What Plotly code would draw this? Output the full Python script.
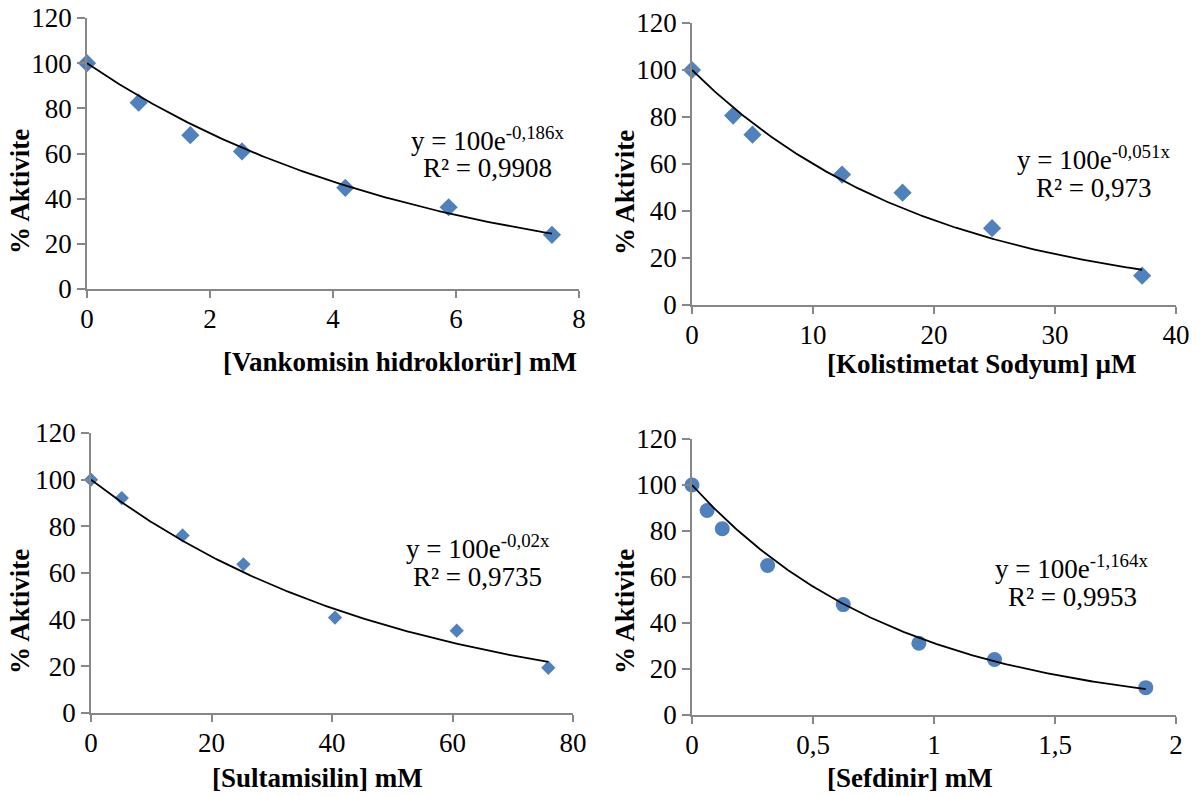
import numpy as np
import plotly.graph_objects as go

W, H = 1203, 796

# ---- data ----
vank_x = [0, 0.84, 1.68, 2.52, 4.20, 5.88, 7.56]
vank_y = [100, 82.5, 68.1, 60.9, 44.8, 36.2, 24.0]
vank_k = 0.186

kol_x = [0, 3.4, 5.0, 12.4, 17.4, 24.8, 37.2]
kol_y = [100, 80.6, 72.5, 55.5, 47.8, 32.7, 12.5]
kol_k = 0.051

sul_x = [0, 5.1, 15.2, 25.3, 40.5, 60.7, 75.9]
sul_y = [100, 92.1, 76.1, 63.7, 40.9, 35.3, 19.4]
sul_k = 0.02

sef_x = [0, 0.0625, 0.125, 0.3125, 0.625, 0.9375, 1.25, 1.875]
sef_y = [100, 88.9, 81.0, 65.0, 48.0, 31.2, 24.1, 11.9]
sef_k = 1.164

x_titles = ["[Vankomisin hidroklorür] mM", "[Kolistimetat Sodyum] µM",
            "[Sultamisilin] mM", "[Sefdinir] mM"]
eq_texts = ["y = 100e<sup>-0,186x</sup>", "y = 100e<sup>-0,051x</sup>",
            "y = 100e<sup>-0,02x</sup>", "y = 100e<sup>-1,164x</sup>"]
r2_texts = ["R² = 0,9908", "R² = 0,973", "R² = 0,9735", "R² = 0,9953"]
x_ranges = [(0, 8, 2), (0, 40, 10), (0, 80, 20), (0, 2, 0.5)]
x_ticktext = [["0", "2", "4", "6", "8"], ["0", "10", "20", "30", "40"],
              ["0", "20", "40", "60", "80"], ["0", "0,5", "1", "1,5", "2"]]
y_ticks = [0, 20, 40, 60, 80, 100, 120]

# ---- layout geometry (pixels) ----
panels = [
    dict(x0=87, x1=579, y0=18, y1=289),
    dict(x0=692, x1=1176, y0=23, y1=305),
    dict(x0=91, x1=573, y0=433, y1=713),
    dict(x0=692, x1=1176, y0=439, y1=715),
]
eq_pos = [(488, 139, 168), (1094, 158, 188), (478, 547, 577), (1072, 567, 597)]
xt_pos = [(400, 362), (982, 364), (317, 778), (910, 778)]
yt_pos = [(20, 192), (625, 193), (20, 612), (625, 612)]

series = [(vank_x, vank_y, vank_k, "diamond", 14),
          (kol_x, kol_y, kol_k, "diamond", 14),
          (sul_x, sul_y, sul_k, "diamond", 11),
          (sef_x, sef_y, sef_k, "circle", 15)]

BLUE = "#4F81BD"
AX = "#878787"
FONT = "Liberation Serif"
FS = 27

fig = go.Figure()
annotations = []
for i, (xs, ys, k, sym, sz) in enumerate(series):
    n = "" if i == 0 else str(i + 1)
    xa, ya = "x" + n, "y" + n
    xfit = np.linspace(0, max(xs), 200)
    yfit = 100 * np.exp(-k * xfit)
    fig.add_trace(go.Scatter(x=xs, y=ys, mode="markers", xaxis=xa, yaxis=ya,
                             marker=dict(symbol=sym, size=sz, color=BLUE,
                                         line=dict(width=0)),
                             showlegend=False, cliponaxis=False))
    fig.add_trace(go.Scatter(x=xfit, y=yfit, mode="lines", xaxis=xa, yaxis=ya,
                             line=dict(color="black", width=1.8),
                             showlegend=False, cliponaxis=False))
    p = panels[i]
    lo, hi, dt = x_ranges[i]
    tv = list(np.arange(lo, hi + dt / 2, dt))
    fig.layout["xaxis" + n] = dict(
        domain=[p["x0"] / W, p["x1"] / W], range=[lo, hi], anchor=ya,
        tickvals=tv, ticktext=x_ticktext[i], showgrid=False, zeroline=False,
        showline=True, linecolor=AX, linewidth=1.5, ticks="outside",
        ticklen=7, tickcolor=AX, tickwidth=1.5, automargin=False,
        ticklabelstandoff=-2,
        tickfont=dict(family=FONT, size=FS, color="black"))
    fig.layout["yaxis" + n] = dict(
        domain=[1 - p["y1"] / H, 1 - p["y0"] / H], range=[0, 120], anchor=xa,
        tickvals=y_ticks, showgrid=False, zeroline=False,
        showline=True, linecolor=AX, linewidth=1.5, ticks="outside",
        ticklen=8, tickcolor=AX, tickwidth=1.5, automargin=False,
        tickfont=dict(family=FONT, size=FS, color="black"))
    ex, ey1, ey2 = eq_pos[i]
    annotations.append(dict(text=eq_texts[i], x=ex / W, y=1 - ey1 / H,
                            xref="paper", yref="paper", showarrow=False,
                            xanchor="center", yanchor="middle",
                            font=dict(family=FONT, size=FS, color="black")))
    annotations.append(dict(text=r2_texts[i], x=ex / W, y=1 - ey2 / H,
                            xref="paper", yref="paper", showarrow=False,
                            xanchor="center", yanchor="middle",
                            font=dict(family=FONT, size=FS, color="black")))
    tx, ty = xt_pos[i]
    annotations.append(dict(text="<b>" + x_titles[i] + "</b>", x=tx / W, y=1 - ty / H,
                            xref="paper", yref="paper", showarrow=False,
                            xanchor="center", yanchor="middle",
                            font=dict(family=FONT, size=FS, color="black")))
    yx, yy = yt_pos[i]
    annotations.append(dict(text="<b>% Aktivite</b>", x=yx / W, y=1 - yy / H,
                            xref="paper", yref="paper", showarrow=False,
                            textangle=-90, xanchor="center", yanchor="middle",
                            font=dict(family=FONT, size=FS, color="black")))

fig.update_layout(width=W, height=H, margin=dict(l=0, r=0, t=0, b=0, autoexpand=False),
                  paper_bgcolor="white", plot_bgcolor="white",
                  annotations=annotations, showlegend=False)

fig.write_html("out.html", config={"displayModeBar": False})

# remove the browser's default body margin so the figure sits at (0, 0)
with open("out.html", "r", encoding="utf-8") as f:
    html = f.read()
html = html.replace("<head>", "<head><style>html,body{margin:0;padding:0;overflow:hidden;}</style>", 1)
with open("out.html", "w", encoding="utf-8") as f:
    f.write(html)
